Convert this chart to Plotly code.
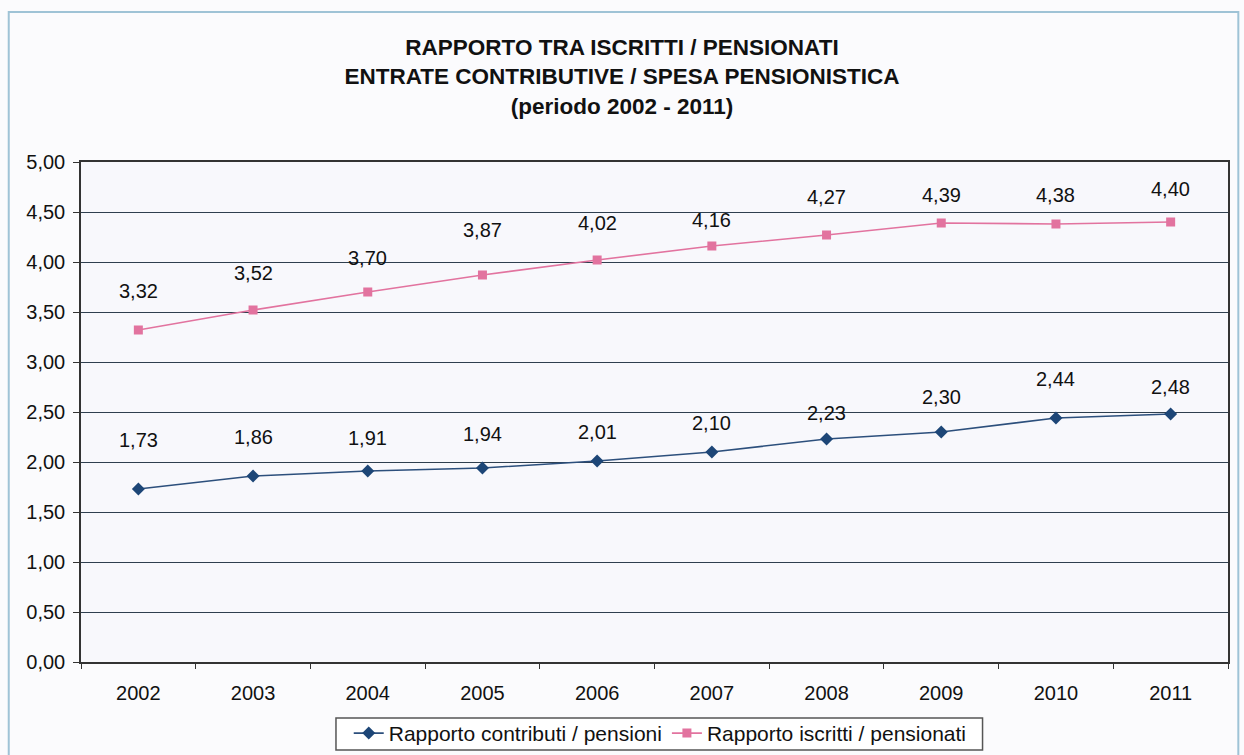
import plotly.graph_objects as go

anni = ["2002", "2003", "2004", "2005", "2006", "2007", "2008", "2009", "2010", "2011"]
contributi_pensioni = [1.73, 1.86, 1.91, 1.94, 2.01, 2.10, 2.23, 2.30, 2.44, 2.48]
iscritti_pensionati = [3.32, 3.52, 3.70, 3.87, 4.02, 4.16, 4.27, 4.39, 4.38, 4.40]
y_ticks = [0, 0.5, 1, 1.5, 2, 2.5, 3, 3.5, 4, 4.5, 5]

# vertical distance (px) of each value label above its point
shift_contributi = [49, 39, 33, 34, 29, 29, 26, 35, 39, 27]
shift_iscritti = [39, 37, 34, 45, 37, 26, 38, 28, 29, 33]

BLU = "#1d4677"
ROSA = "#e2739f"
FONT = "Liberation Sans, Arial, sans-serif"


def fmt(v):
    return f"{v:.2f}".replace(".", ",")


fig = go.Figure()
fig.add_trace(go.Scatter(
    x=anni, y=contributi_pensioni, name="Rapporto contributi / pensioni",
    mode="lines+markers",
    line=dict(color="#2c4f7c", width=1.6),
    marker=dict(symbol="diamond", size=10, color=BLU),
))
fig.add_trace(go.Scatter(
    x=anni, y=iscritti_pensionati, name="Rapporto iscritti / pensionati",
    mode="lines+markers",
    line=dict(color=ROSA, width=1.6),
    marker=dict(symbol="square", size=9, color=ROSA),
))

# value labels above each point (category index used as x position)
for serie, shifts in ((contributi_pensioni, shift_contributi),
                      (iscritti_pensionati, shift_iscritti)):
    for i, (v, s) in enumerate(zip(serie, shifts)):
        fig.add_annotation(x=i, y=v, text=fmt(v), showarrow=False,
                           yshift=s, font=dict(size=20, color="#111", family=FONT))

# outer frame of the chart
fig.add_shape(type="rect", xref="paper", yref="paper",
              x0=-0.063, x1=1.009, y0=-0.2, y1=1.3,
              line=dict(color="#9fc3d6", width=2), fillcolor="rgba(0,0,0,0)",
              layer="below")
# compact box around the legend
fig.add_shape(type="rect", xref="paper", yref="paper",
              x0=0.2223, x1=0.786, y0=-0.176, y1=-0.112,
              line=dict(color="#555", width=1.5), fillcolor="#ffffff",
              layer="below")

fig.update_layout(
    width=1244, height=755,
    margin=dict(l=81, r=16, t=162, b=93, autoexpand=False),
    paper_bgcolor="#fbfbfd",
    plot_bgcolor="#f8f8fc",
    font=dict(family=FONT, size=20, color="#111"),
    title=dict(
        text="<b>RAPPORTO TRA ISCRITTI / PENSIONATI<br>ENTRATE CONTRIBUTIVE / SPESA PENSIONISTICA<br>(periodo 2002 - 2011)</b>",
        x=0.5, xanchor="center", yref="container", y=0.927, yanchor="top",
        font=dict(size=22.5, color="#111", family=FONT),
    ),
    showlegend=True,
    legend=dict(
        orientation="h", x=0.505, xanchor="center",
        yref="container", y=0.0557, yanchor="top",
        borderwidth=0, bgcolor="rgba(0,0,0,0)",
        font=dict(size=21, family=FONT),
        itemwidth=30,
    ),
    xaxis=dict(
        type="category", range=[-0.5, 9.5],
        showgrid=False, showline=True, linecolor="#333", linewidth=1.5,
        ticks="outside", tickson="boundaries", ticklen=5, tickcolor="#333",
        tickfont=dict(size=20), mirror=True, ticklabelstandoff=12,
    ),
    yaxis=dict(
        range=[0, 5], tickvals=y_ticks, ticktext=[fmt(v) for v in y_ticks],
        showgrid=True, gridcolor="#2f3f4f", gridwidth=1.2,
        showline=True, linecolor="#333", linewidth=1.5, mirror=True,
        ticks="outside", ticklen=6, tickcolor="#333",
        tickfont=dict(size=20), zeroline=False, ticklabelstandoff=4,
    ),
)

fig.write_html("out.html")
